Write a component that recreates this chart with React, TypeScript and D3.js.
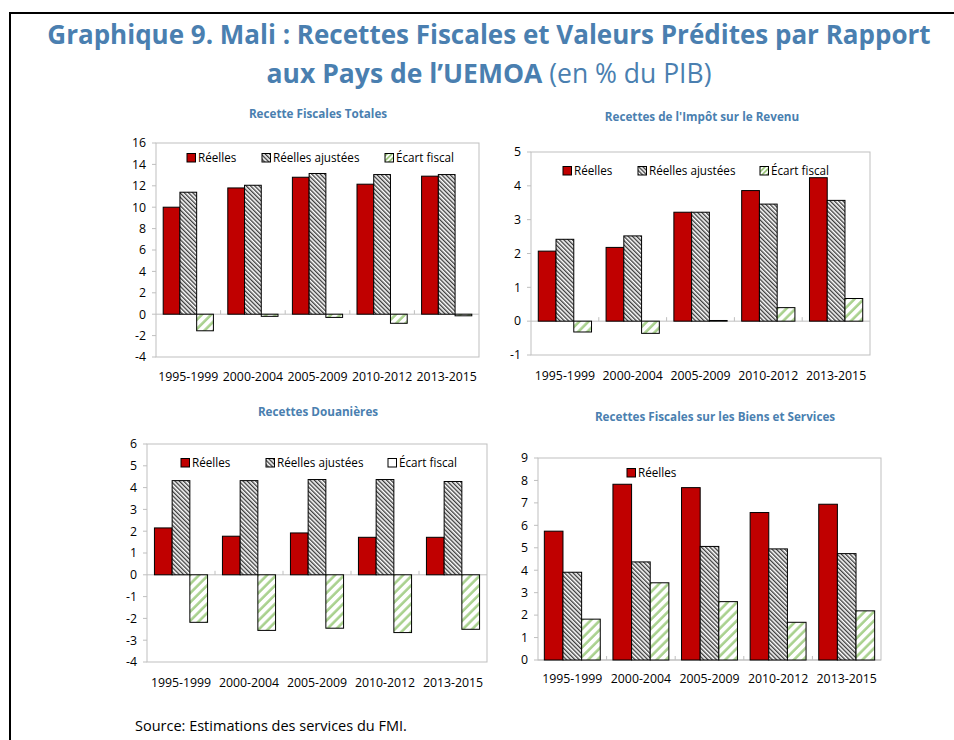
import React from 'react';
import * as d3 from 'd3';

const categories = ['1995-1999', '2000-2004', '2005-2009', '2010-2012', '2013-2015'];

// Recette Fiscales Totales
const totReelles = [10.0, 11.8, 12.8, 12.15, 12.9];
const totAjustees = [11.4, 12.05, 13.15, 13.05, 13.05];
const totEcart = [-1.55, -0.2, -0.3, -0.85, -0.15];

// Recettes de l'Impôt sur le Revenu
const revReelles = [2.07, 2.18, 3.22, 3.86, 4.24];
const revAjustees = [2.42, 2.52, 3.22, 3.46, 3.57];
const revEcart = [-0.32, -0.36, 0.02, 0.4, 0.67];

// Recettes Douanières
const douReelles = [2.15, 1.77, 1.92, 1.72, 1.72];
const douAjustees = [4.32, 4.32, 4.37, 4.37, 4.28];
const douEcart = [-2.18, -2.55, -2.45, -2.65, -2.5];

// Recettes Fiscales sur les Biens et Services
const bsReelles = [5.74, 7.83, 7.68, 6.57, 6.94];
const bsAjustees = [3.91, 4.37, 5.06, 4.95, 4.74];
const bsEcart = [1.82, 3.44, 2.6, 1.68, 2.19];

const seriesNames = ['Réelles', 'Réelles ajustées', 'Écart fiscal'];

const FONT = '"Open Sans", "Noto Sans", sans-serif';
const BLUE = '#4a7fb0';
const RED = '#c00000';
const FRAME = '#bfbfbf';
const fills = [RED, 'url(#hatchBlack)', 'url(#hatchGreen)'];

type LegendItem = { name: string; fill: string; x: number };

type PanelProps = {
  title: string;
  titleX: number;
  titleY: number;
  x0: number;
  x1: number;
  y0: number;
  y1: number;
  domain: [number, number];
  series: number[][];
  pad: number;
  legendY: number;
  legend: LegendItem[];
  labelY: number;
};

function Panel(p: PanelProps) {
  const y = d3.scaleLinear().domain(p.domain).range([p.y1, p.y0]);
  const x = d3.scaleBand().domain(categories).range([p.x0, p.x1]).padding(0);
  const inner = d3
    .scaleBand<number>()
    .domain([0, 1, 2])
    .range([0, x.bandwidth()])
    .paddingInner(0)
    .paddingOuter(p.pad);
  const ticks = d3.range(p.domain[0], p.domain[1] + 0.001, p.domain[1] - p.domain[0] > 12 ? 2 : 1);

  return (
    <g>
      <text x={p.titleX} y={p.titleY} textAnchor="middle" fontFamily={FONT} fontSize={11.7}
        fontWeight="bold" fill={BLUE}>
        {p.title}
      </text>
      <rect x={p.x0} y={p.y0} width={p.x1 - p.x0} height={p.y1 - p.y0} fill="white" stroke={FRAME} />
      {ticks.map((t) => (
        <g key={t}>
          <line x1={p.x0 - 4} x2={p.x0} y1={y(t)} y2={y(t)} stroke={FRAME} />
          <text x={p.x0 - 10} y={y(t)} dy="0.35em" textAnchor="end" fontFamily={FONT} fontSize={12.3} fill="#000">
            {t}
          </text>
        </g>
      ))}
      <line x1={p.x0} x2={p.x1} y1={y(0)} y2={y(0)} stroke={FRAME} />
      {categories.slice(1).map((c) => (
        <line key={c} x1={x(c)} x2={x(c)} y1={y(0) - 4} y2={y(0)} stroke={FRAME} />
      ))}
      {categories.map((c, i) => (
        <g key={c} transform={`translate(${x(c)},0)`}>
          {p.series.map((s, k) => {
            const v = s[i];
            return (
              <rect key={k} x={inner(k)} y={Math.min(y(v), y(0))} width={inner.bandwidth()}
                height={Math.abs(y(v) - y(0))} fill={fills[k]} stroke="#000" strokeWidth={1} />
            );
          })}
          <text x={x.bandwidth() / 2} y={p.labelY} textAnchor="middle" fontFamily={FONT} fontSize={12.3}>
            {c}
          </text>
        </g>
      ))}
      {p.legend.map((l) => (
        <g key={l.name}>
          <rect x={l.x} y={p.legendY - 4.5} width={8.5} height={8.5} fill={l.fill} stroke="#000" />
          <text x={l.x + 11} y={p.legendY} dy="0.35em" fontFamily={FONT} fontSize={11.7}>
            {l.name}
          </text>
        </g>
      ))}
    </g>
  );
}

export default function App() {
  return (
    <svg width={954} height={740} style={{ position: 'absolute', left: 0, top: 0, background: 'white' }}>
      <defs>
        <pattern id="hatchBlack" patternUnits="userSpaceOnUse" width={3} height={3} patternTransform="rotate(-45)">
          <rect width={3} height={3} fill="white" />
          <line x1={0.7} y1={0} x2={0.7} y2={3} stroke="#333" strokeWidth={1.3} />
        </pattern>
        <pattern id="hatchGreen" patternUnits="userSpaceOnUse" width={6.5} height={6.5} patternTransform="rotate(45)">
          <rect width={6.5} height={6.5} fill="white" />
          <line x1={1.5} y1={0} x2={1.5} y2={6.5} stroke="#a9d18e" strokeWidth={2.6} />
        </pattern>
        <pattern id="hatchGreenSmall" patternUnits="userSpaceOnUse" width={3.5} height={3.5} patternTransform="rotate(45)">
          <rect width={3.5} height={3.5} fill="white" />
          <line x1={1} y1={0} x2={1} y2={3.5} stroke="#8fbf6a" strokeWidth={1.6} />
        </pattern>
      </defs>
      <path d="M10,740 V13 H954" fill="none" stroke="#000" strokeWidth={2} />

      <text x={489} y={44} textAnchor="middle" fontFamily={FONT} fontSize={26} fontWeight="bold" fill={BLUE}>
        Graphique 9. Mali : Recettes Fiscales et Valeurs Prédites par Rapport
      </text>
      <text x={489} y={83} textAnchor="middle" fontFamily={FONT} fontSize={26.5} fill={BLUE}>
        <tspan fontWeight="bold">aux Pays de l’UEMOA</tspan>
        <tspan> (en % du PIB)</tspan>
      </text>

      <Panel title="Recette Fiscales Totales" titleX={318} titleY={118}
        x0={156} x1={479} y0={143} y1={357} domain={[-4, 16]}
        series={[totReelles, totAjustees, totEcart]} pad={0.43} labelY={381}
        legendY={158}
        legend={[
          { name: seriesNames[0], fill: RED, x: 187 },
          { name: seriesNames[1], fill: 'url(#hatchBlack)', x: 262 },
          { name: seriesNames[2], fill: 'url(#hatchGreenSmall)', x: 385 },
        ]} />

      <Panel title="Recettes de l'Impôt sur le Revenu" titleX={702} titleY={121}
        x0={531} x1={870} y0={152} y1={355} domain={[-1, 5]}
        series={[revReelles, revAjustees, revEcart]} pad={0.41} labelY={380}
        legendY={171}
        legend={[
          { name: seriesNames[0], fill: RED, x: 563 },
          { name: seriesNames[1], fill: 'url(#hatchBlack)', x: 638 },
          { name: seriesNames[2], fill: 'url(#hatchGreenSmall)', x: 760 },
        ]} />

      <Panel title="Recettes Douanières" titleX={318} titleY={416}
        x0={147} x1={487} y0={444} y1={662} domain={[-4, 6]}
        series={[douReelles, douAjustees, douEcart]} pad={0.42} labelY={687}
        legendY={463}
        legend={[
          { name: seriesNames[0], fill: RED, x: 181 },
          { name: seriesNames[1], fill: 'url(#hatchBlack)', x: 266 },
          { name: seriesNames[2], fill: 'white', x: 388 },
        ]} />

      <Panel title="Recettes Fiscales sur les Biens et Services" titleX={715} titleY={421}
        x0={538} x1={881} y0={458} y1={660} domain={[0, 9]}
        series={[bsReelles, bsAjustees, bsEcart]} pad={0.34} labelY={683}
        legendY={473}
        legend={[{ name: seriesNames[0], fill: RED, x: 627 }]} />

      <text x={135} y={731} fontFamily={FONT} fontSize={14.5}>
        Source: Estimations des services du FMI.
      </text>
    </svg>
  );
}
